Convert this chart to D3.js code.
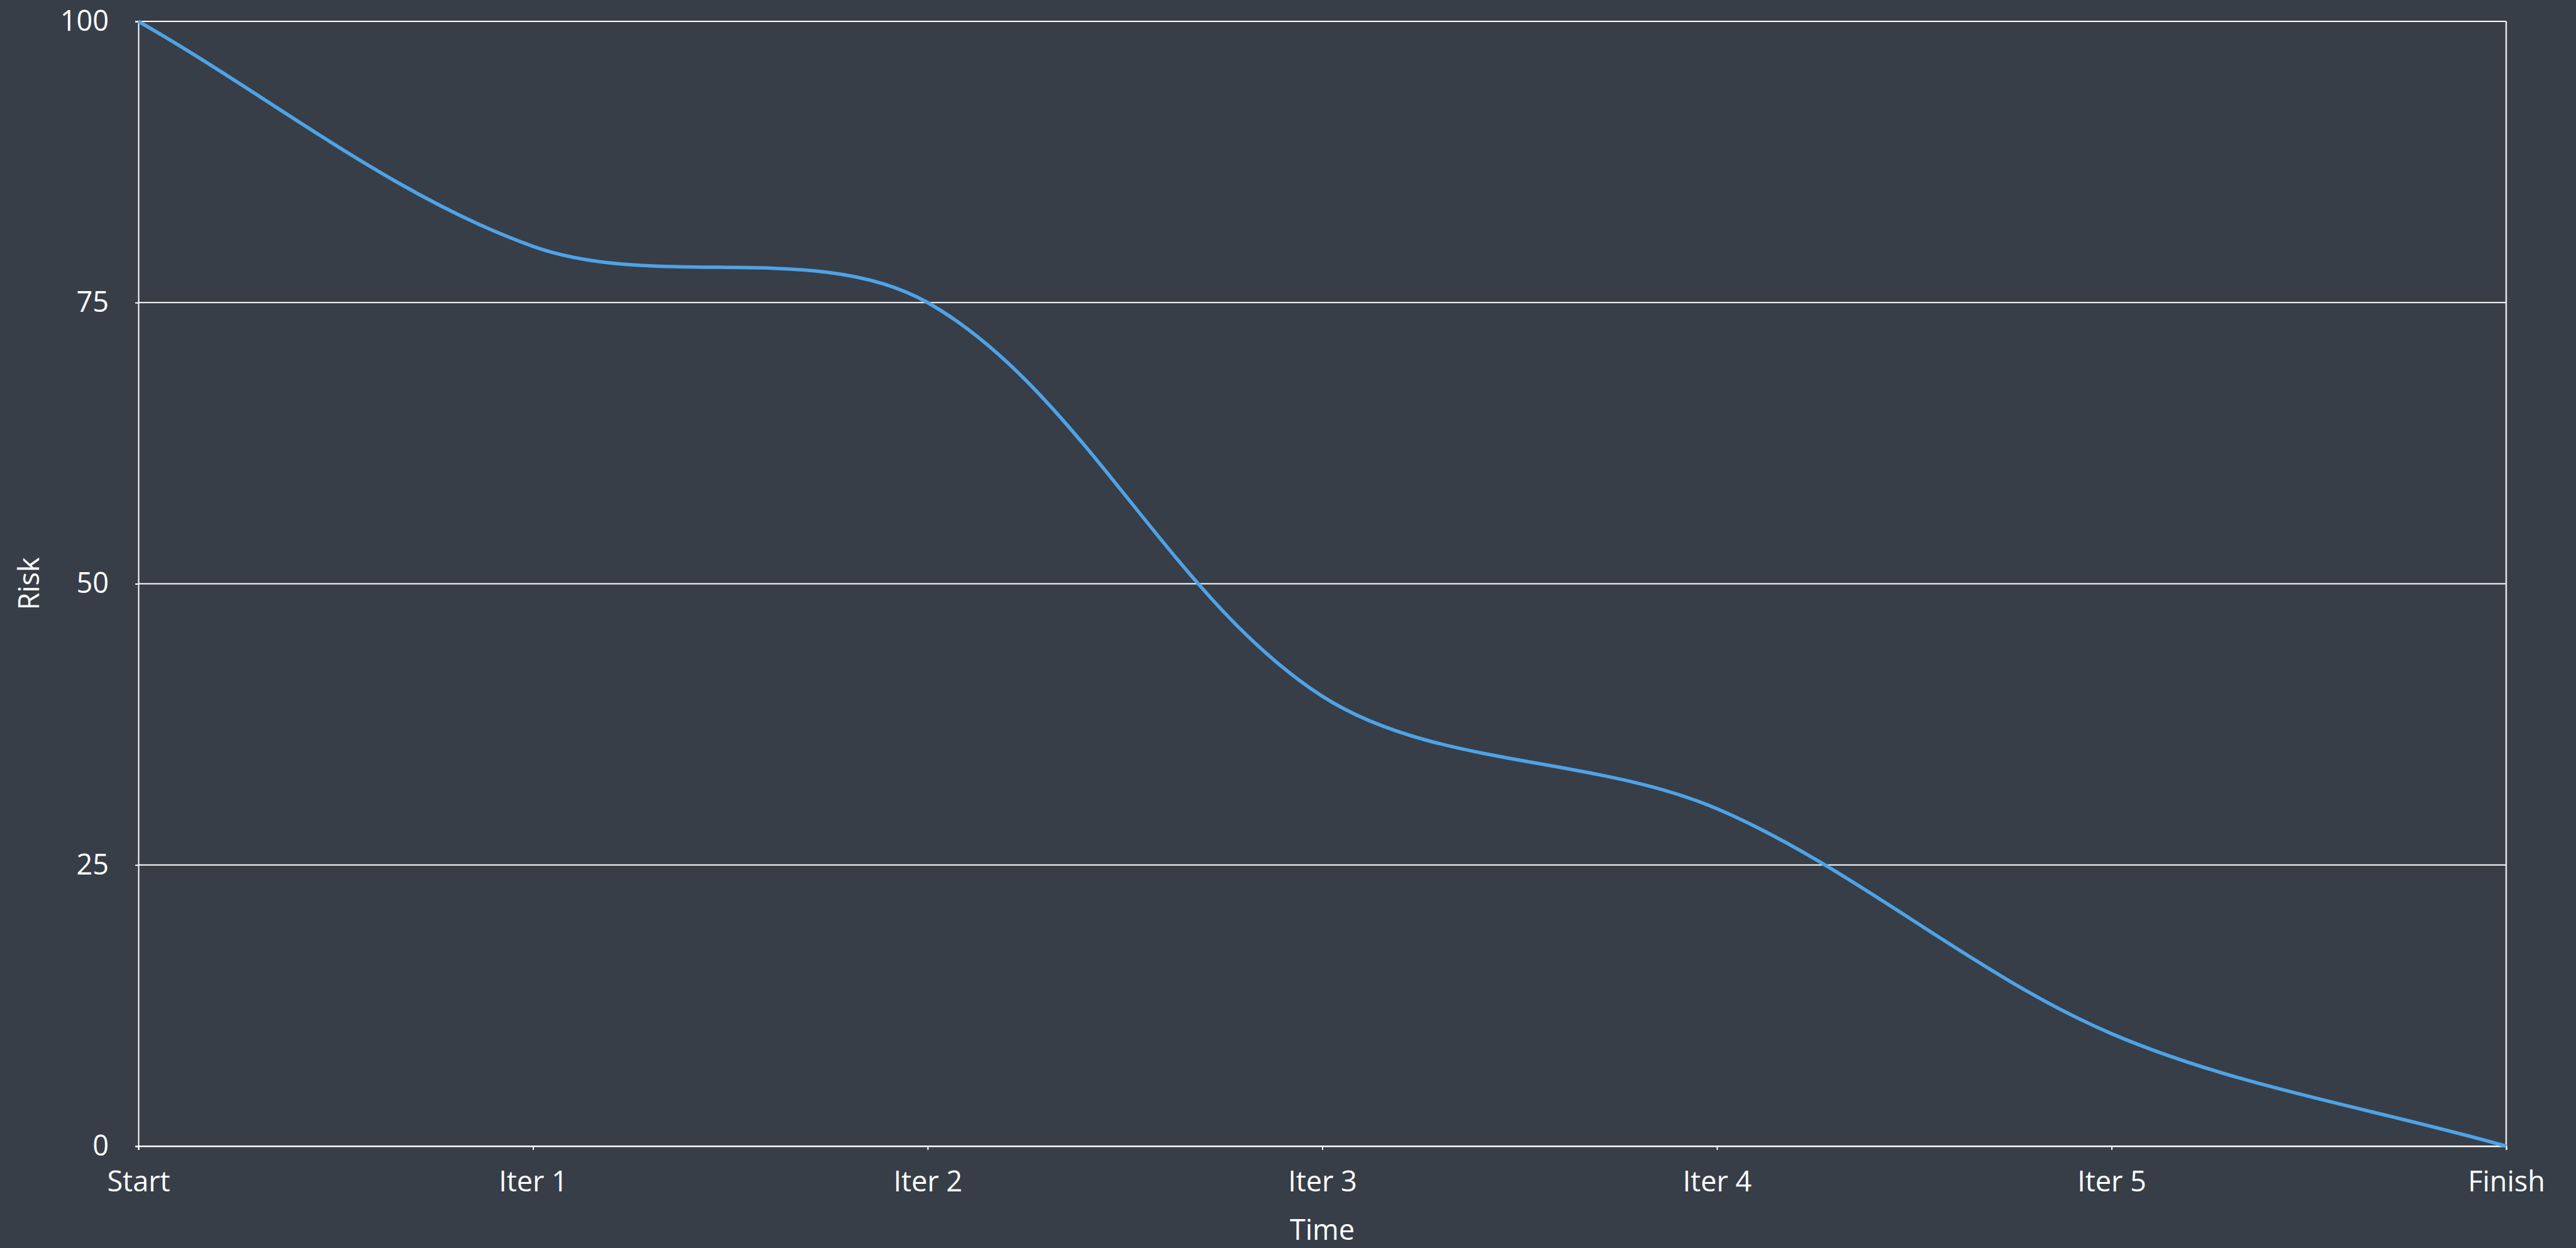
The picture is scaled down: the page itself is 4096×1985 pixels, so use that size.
<!DOCTYPE html>
<html>
<head>
<meta charset="utf-8">
<script src="https://cdn.jsdelivr.net/npm/d3@7"></script>
<style>
  html, body { margin: 0; padding: 0; background: #373e48; }
  svg { display: block; }
  text { font-family: "Open Sans", "Noto Sans", sans-serif; fill: #ffffff; }
</style>
</head>
<body>
<script>
// Risk burn-down over project iterations
const categories = ["Start", "Iter 1", "Iter 2", "Iter 3", "Iter 4", "Iter 5", "Finish"];
const riskValues = [100, 80, 75, 40, 30, 10, 0];
const yTicks = [0, 25, 50, 75, 100];
const xTitle = "Time";
const yTitle = "Risk";

const W = 4096, H = 1985;
const margin = { left: 220, right: W - 3985, top: 34, bottom: H - 1823 };
const fontSize = 45;

// Smoothed Bezier curve: each control point follows the neighbour chord,
// scaled by the length of the segment it belongs to.
function SmoothCurve(context) { this._context = context; }
SmoothCurve.prototype = {
  areaStart() { this._line = 0; },
  areaEnd() { this._line = NaN; },
  lineStart() { this._pts = []; },
  point(px, py) { this._pts.push([+px, +py]); },
  lineEnd() {
    const p = this._pts, n = p.length, ctx = this._context;
    if (!n) return;
    ctx.moveTo(p[0][0], p[0][1]);
    if (n === 2) { ctx.lineTo(p[1][0], p[1][1]); return; }
    const dist = (a, b) => Math.hypot(b[0] - a[0], b[1] - a[1]);
    for (let i = 0; i < n - 1; i++) {
      const p0 = p[i - 1] || p[i], p1 = p[i], p2 = p[i + 1], p3 = p[i + 2] || p[i + 1];
      const d01 = dist(p0, p1), d12 = dist(p1, p2), d23 = dist(p2, p3);
      const f1 = d12 / (d01 + d12) / 3, f2 = d12 / (d12 + d23) / 3;
      ctx.bezierCurveTo(
        p1[0] + (p2[0] - p0[0]) * f1, p1[1] + (p2[1] - p0[1]) * f1,
        p2[0] - (p3[0] - p1[0]) * f2, p2[1] - (p3[1] - p1[1]) * f2,
        p2[0], p2[1]);
    }
  }
};
const curveSmooth = context => new SmoothCurve(context);

const svg = d3.select("body").append("svg")
  .attr("width", W).attr("height", H);

svg.append("rect").attr("width", W).attr("height", H).attr("fill", "#373e48");

const x = d3.scalePoint()
  .domain(categories)
  .range([margin.left, W - margin.right]);

const y = d3.scaleLinear()
  .domain([0, 100])
  .range([H - margin.bottom, margin.top]);

// horizontal gridlines
svg.append("g")
  .selectAll("line")
  .data(yTicks)
  .join("line")
  .attr("x1", margin.left)
  .attr("x2", W - margin.right)
  .attr("y1", d => y(d))
  .attr("y2", d => y(d))
  .attr("stroke", "#ffffff")
  .attr("stroke-width", 2);

// right frame edge
svg.append("line")
  .attr("x1", W - margin.right).attr("x2", W - margin.right)
  .attr("y1", y(100)).attr("y2", y(0))
  .attr("stroke", "#e6e6e6")
  .attr("stroke-width", 2.5);

// left axis
const yAxis = svg.append("g")
  .attr("transform", `translate(${margin.left},0)`)
  .call(d3.axisLeft(y).tickValues(yTicks).tickSize(5).tickPadding(42).tickFormat(d3.format("d")));
yAxis.select(".domain").attr("stroke", "#ffffff").attr("stroke-width", 2);
yAxis.selectAll(".tick line").attr("stroke", "#ffffff").attr("stroke-width", 2);
yAxis.selectAll(".tick text")
  .attr("fill", "#ffffff")
  .style("font-size", fontSize + "px")
  .style("font-family", "\"Open Sans\", sans-serif");

// bottom axis
const xAxis = svg.append("g")
  .attr("transform", `translate(0,${H - margin.bottom})`)
  .call(d3.axisBottom(x).tickSize(6));
xAxis.select(".domain").attr("stroke", "#ffffff").attr("stroke-width", 2);
xAxis.selectAll(".tick line").attr("stroke", "#ffffff").attr("stroke-width", 2);
xAxis.selectAll(".tick text")
  .attr("fill", "#ffffff")
  .attr("y", 72)
  .attr("dy", 0)
  .style("font-size", fontSize + "px")
  .style("font-family", "\"Open Sans\", sans-serif");

// axis titles
svg.append("text")
  .attr("x", (margin.left + W - margin.right) / 2)
  .attr("y", 1972)
  .attr("text-anchor", "middle")
  .style("font-size", fontSize + "px")
  .text(xTitle);

svg.append("text")
  .attr("transform", `translate(62,${(y(0) + y(100)) / 2}) rotate(-90)`)
  .attr("text-anchor", "middle")
  .style("font-size", fontSize + "px")
  .text(yTitle);

// smoothed risk line
const line = d3.line()
  .x((d, i) => x(categories[i]))
  .y(d => y(d))
  .curve(curveSmooth);

svg.append("path")
  .datum(riskValues)
  .attr("d", line)
  .attr("fill", "none")
  .attr("stroke", "#4fa3e6")
  .attr("stroke-width", 5.5)
  .attr("stroke-linejoin", "round");
</script>
</body>
</html>
